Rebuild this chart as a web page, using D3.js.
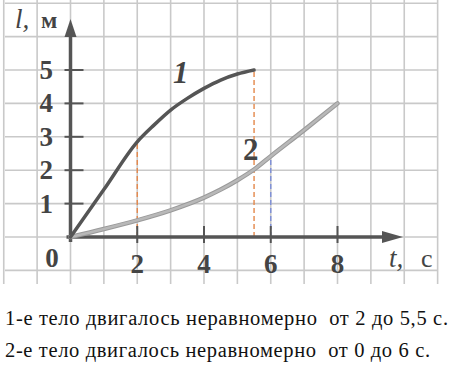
<!DOCTYPE html>
<html><head><meta charset="utf-8">
<script src="https://cdnjs.cloudflare.com/ajax/libs/d3/7.8.5/d3.min.js"></script>
<style>html,body{margin:0;padding:0;background:#fff;}svg{display:block;}</style>
</head><body>
<svg id="c" width="450" height="367"></svg>
<script>
// Data
const body1T = [0, 1, 2, 2.5, 3, 3.5, 4, 4.5, 5, 5.5];
const body1L = [0, 1.42, 2.85, 3.35, 3.8, 4.15, 4.45, 4.7, 4.88, 5.0];
const body2T = [0, 1, 2, 3, 4, 4.5, 5, 5.5, 6, 7, 8];
const body2L = [0, 0.24, 0.5, 0.8, 1.18, 1.42, 1.7, 2.02, 2.42, 3.2, 4.0];
const xTicks = [2, 4, 6, 8];
const yTicks = [1, 2, 3, 4, 5];
const orangeMarks = [[2, 2.85], [5.5, 5.0]];
const blueMarks = [[6, 2.42]];
const curveLabels = [["1", 3.3, 4.6, "italic"], ["2", 5.4, 2.3, "normal"]];
const captions = ["1-е тело двигалось неравномерно  от 2 до 5,5 с.",
                  "2-е тело двигалось неравномерно  от 0 до 6 с."];

const SERIF = '"Liberation Serif", "Times New Roman", serif';
const svg = d3.select("#c");
const x = d3.scaleLinear().domain([0, 8]).range([70.5, 337.5]);
const y = d3.scaleLinear().domain([0, 5]).range([237, 70]);

// grid
const g = svg.append("g").attr("stroke", "#c9c9c9").attr("stroke-width", 1.6);
d3.range(-2, 12).forEach(t => g.append("line").attr("x1", x(t)).attr("x2", x(t)).attr("y1", 0).attr("y2", 284));
d3.range(-1, 8).forEach(v => g.append("line").attr("x1", 5).attr("x2", 438).attr("y1", y(v)).attr("y2", y(v)));

// dashed guides
orangeMarks.forEach(([t, v]) => svg.append("line").attr("x1", x(t)).attr("x2", x(t)).attr("y1", y(0)).attr("y2", y(v))
  .attr("stroke", "#e4874a").attr("stroke-width", 1.4).attr("stroke-dasharray", "5,3"));
blueMarks.forEach(([t, v]) => svg.append("line").attr("x1", x(t)).attr("x2", x(t)).attr("y1", y(0)).attr("y2", y(v))
  .attr("stroke", "#7d8fd8").attr("stroke-width", 1.4).attr("stroke-dasharray", "5,3"));

// axes
const axisCol = "#555";
svg.append("line").attr("x1", x(0)).attr("x2", x(0)).attr("y1", y(0) + 5).attr("y2", 32)
  .attr("stroke", axisCol).attr("stroke-width", 3.5);
svg.append("path").attr("d", `M${x(0)},19 L${x(0) - 6},37 L${x(0) + 6},37 Z`).attr("fill", axisCol);
svg.append("line").attr("x1", x(0) - 4).attr("x2", 390).attr("y1", y(0)).attr("y2", y(0))
  .attr("stroke", axisCol).attr("stroke-width", 3.5);
svg.append("path").attr("d", `M403,${y(0)} L382,${y(0) - 6} L382,${y(0) + 6} Z`).attr("fill", axisCol);

yTicks.forEach(v => svg.append("line").attr("x1", x(0) - 6).attr("x2", x(0) + 13).attr("y1", y(v)).attr("y2", y(v))
  .attr("stroke", axisCol).attr("stroke-width", 2));
xTicks.forEach(t => svg.append("line").attr("x1", x(t)).attr("x2", x(t)).attr("y1", y(0) - 11).attr("y2", y(0) + 6)
  .attr("stroke", axisCol).attr("stroke-width", 2));

const numCol = "#444";
function txt(xp, yp, s, size, anchor) {
  return svg.append("text").attr("x", xp).attr("y", yp).attr("text-anchor", anchor || "start")
    .style("font-family", SERIF).attr("font-size", size).attr("fill", numCol).text(s);
}
yTicks.forEach(v => txt(53, y(v) + 9, v, 27, "end").attr("font-weight", "bold"));
xTicks.forEach(t => txt(x(t), 273, t, 27, "middle").attr("font-weight", "bold"));
txt(52, 267, "0", 27, "middle").attr("font-weight", "bold");

// axis titles
txt(15, 28, "l,", 27).attr("font-style", "italic");
txt(41, 28, "м", 24).attr("font-weight", "bold");
txt(389, 267, "t,", 27).attr("font-style", "italic");
txt(421, 267, "с", 26);

// curves
const line = d3.line().x(d => x(d[0])).y(d => y(d[1])).curve(d3.curveMonotoneX);
const pts2 = body2T.map((t, i) => [t, body2L[i]]);
svg.append("path").datum(pts2).attr("d", line)
  .attr("fill", "none").attr("stroke", "#9a9a9a").attr("stroke-width", 4.5).attr("stroke-linecap", "round");
svg.append("path").datum(pts2).attr("d", line)
  .attr("fill", "none").attr("stroke", "#b8b8b8").attr("stroke-width", 2.5).attr("stroke-linecap", "round");
svg.append("path").datum(body1T.map((t, i) => [t, body1L[i]])).attr("d", line)
  .attr("fill", "none").attr("stroke", "#555").attr("stroke-width", 3.5).attr("stroke-linecap", "round");

// curve labels
curveLabels.forEach(([s, t, v, st]) => txt(x(t), y(v), s, 31, "middle")
  .attr("font-style", st).attr("font-weight", "bold"));

// captions
const capW = [443, 425];
captions.forEach((s, i) => svg.append("text").attr("x", 5).attr("y", 325 + i * 31.5)
  .style("font-family", SERIF).attr("font-size", 20.5).attr("fill", "#111")
  .attr("textLength", capW[i]).attr("lengthAdjust", "spacing")
  .style("white-space", "pre").text(s));
</script>
</body></html>
